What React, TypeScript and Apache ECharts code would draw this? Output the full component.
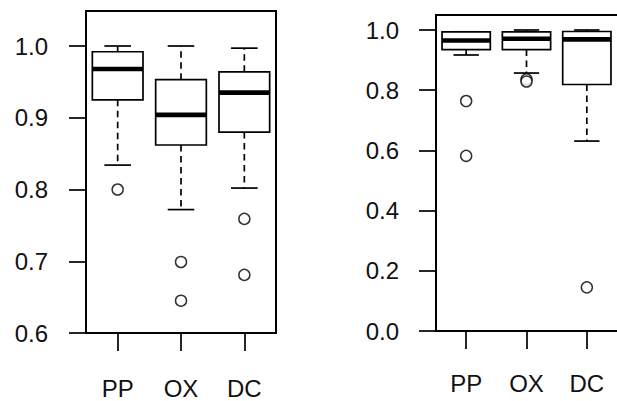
import React, { useEffect, useRef } from "react";
import * as echarts from "echarts";

const categories = ["PP", "OX", "DC"];

// Left panel (y from 0.6 to 1.05)
const leftLower = [0.834, 0.772, 0.802];
const leftQ1 = [0.925, 0.862, 0.880];
const leftMedian = [0.968, 0.904, 0.935];
const leftQ3 = [0.992, 0.953, 0.964];
const leftUpper = [1.0, 1.0, 0.997];
const leftOutliers: [number, number][] = [
  [0, 0.8],
  [1, 0.699],
  [1, 0.645],
  [2, 0.759],
  [2, 0.681],
];
const leftTicks = [0.6, 0.7, 0.8, 0.9, 1.0];

// Right panel (y from 0 to 1.05)
const rightLower = [0.917, 0.857, 0.631];
const rightQ1 = [0.935, 0.935, 0.819];
const rightMedian = [0.965, 0.971, 0.969];
const rightQ3 = [0.994, 0.994, 0.995];
const rightUpper = [0.994, 1.0, 1.0];
const rightOutliers: [number, number][] = [
  [0, 0.764],
  [0, 0.582],
  [1, 0.836],
  [1, 0.829],
  [2, 0.145],
];
const rightTicks = [0.0, 0.2, 0.4, 0.6, 0.8, 1.0];

const INK = "#111";
const FONT = "'Liberation Sans', Arial, sans-serif";

function boxData(lower: number[], q1: number[], med: number[], q3: number[], upper: number[]) {
  return categories.map((_, i) => [i, lower[i], q1[i], med[i], q3[i], upper[i]]);
}

function renderBox(params: any, api: any) {
  const i = api.value(0);
  const lo = api.value(1);
  const q1 = api.value(2);
  const md = api.value(3);
  const q3 = api.value(4);
  const hi = api.value(5);
  const band = api.size([1, 0])[0];
  const half = band * 0.4;
  const cap = band * 0.21;
  const pLo = api.coord([i, lo]);
  const pQ1 = api.coord([i, q1]);
  const pMd = api.coord([i, md]);
  const pQ3 = api.coord([i, q3]);
  const pHi = api.coord([i, hi]);
  const cx = pMd[0];
  const lw = 1.7;
  const line = (x1: number, y1: number, x2: number, y2: number, w: number, dash?: number[]) => ({
    type: "line",
    shape: { x1, y1, x2, y2 },
    style: { stroke: "#000", lineWidth: w, lineDash: dash || null, fill: null },
  });
  const children: any[] = [];
  if (pLo[1] - pQ1[1] > 0.5) {
    children.push(line(cx, pQ1[1], cx, pLo[1], lw, [6.5, 4.5]));
  }
  if (pQ3[1] - pHi[1] > 0.5) {
    children.push(line(cx, pQ3[1], cx, pHi[1], lw, [6.5, 4.5]));
  }
  children.push(line(cx - cap, pLo[1], cx + cap, pLo[1], lw));
  children.push(line(cx - cap, pHi[1], cx + cap, pHi[1], lw));
  children.push({
    type: "rect",
    shape: { x: cx - half, y: pQ3[1], width: half * 2, height: pQ1[1] - pQ3[1] },
    style: { fill: "#fff", stroke: "#000", lineWidth: lw },
  });
  children.push(line(cx - half, pMd[1], cx + half, pMd[1], 4.6));
  return { type: "group", children };
}

function makeAxes(gridIndex: number, min: number, max: number, interval: number, labelMarginX: number, labelMarginY: number) {
  const xAxis = {
    type: "category",
    gridIndex,
    data: categories,
    boundaryGap: true,
    axisLine: { show: false },
    axisTick: { show: true, alignWithLabel: true, length: 18, lineStyle: { color: "#000", width: 1.7 } },
    axisLabel: { margin: labelMarginX, fontSize: 24, color: INK, fontFamily: FONT },
    splitLine: { show: false },
  };
  const yAxis = {
    type: "value",
    gridIndex,
    min,
    max,
    interval,
    axisLine: { show: false },
    axisTick: { show: true, inside: false, length: 17, lineStyle: { color: "#000", width: 1.7 } },
    axisLabel: {
      margin: labelMarginY,
      fontSize: 24,
      color: INK,
      fontFamily: FONT,
      padding: [5, 0, 0, 0],
      formatter: (v: number) => v.toFixed(1),
    },
    splitLine: { show: false },
  };
  return { xAxis, yAxis };
}

export default function App() {
  const ref = useRef<HTMLDivElement>(null);
  useEffect(() => {
    if (!ref.current) return;
    const chart = echarts.init(ref.current, null, { renderer: "svg" });
    const a = makeAxes(0, leftTicks[0], leftTicks[leftTicks.length - 1], 0.1, 43, 38);
    const b = makeAxes(1, rightTicks[0], rightTicks[rightTicks.length - 1], 0.2, 40, 37);
    const scatterStyle = {
      symbol: "circle",
      symbolSize: 11,
      itemStyle: { color: "#fff", borderColor: "#000", borderWidth: 1.5 },
    };
    chart.setOption({
      animation: false,
      backgroundColor: "#fff",
      grid: [
        { left: 86, top: 46, width: 190, height: 287 },
        { left: 436, top: 30, width: 186, height: 301 },
      ],
      xAxis: [a.xAxis, b.xAxis],
      yAxis: [a.yAxis, b.yAxis],
      graphic: [
        {
          type: "rect",
          shape: { x: 86, y: 11, width: 190, height: 322 },
          style: { fill: null, stroke: "#000", lineWidth: 2 },
          z: 100,
        },
        {
          type: "rect",
          shape: { x: 436, y: 15, width: 186, height: 316 },
          style: { fill: null, stroke: "#000", lineWidth: 2 },
          z: 100,
        },
      ],
      series: [
        {
          type: "custom",
          xAxisIndex: 0,
          yAxisIndex: 0,
          renderItem: renderBox,
          data: boxData(leftLower, leftQ1, leftMedian, leftQ3, leftUpper),
          encode: { x: 0, y: [1, 2, 3, 4, 5] },
          clip: false,
        },
        {
          type: "scatter",
          xAxisIndex: 0,
          yAxisIndex: 0,
          data: leftOutliers,
          clip: false,
          ...scatterStyle,
        },
        {
          type: "custom",
          xAxisIndex: 1,
          yAxisIndex: 1,
          renderItem: renderBox,
          data: boxData(rightLower, rightQ1, rightMedian, rightQ3, rightUpper),
          encode: { x: 0, y: [1, 2, 3, 4, 5] },
          clip: false,
        },
        {
          type: "scatter",
          xAxisIndex: 1,
          yAxisIndex: 1,
          data: rightOutliers,
          clip: false,
          ...scatterStyle,
        },
      ],
    });
    return () => chart.dispose();
  }, []);
  return (
    <div
      ref={ref}
      style={{ position: "fixed", left: 0, top: 0, width: 617, height: 401, background: "#fff" }}
    />
  );
}
